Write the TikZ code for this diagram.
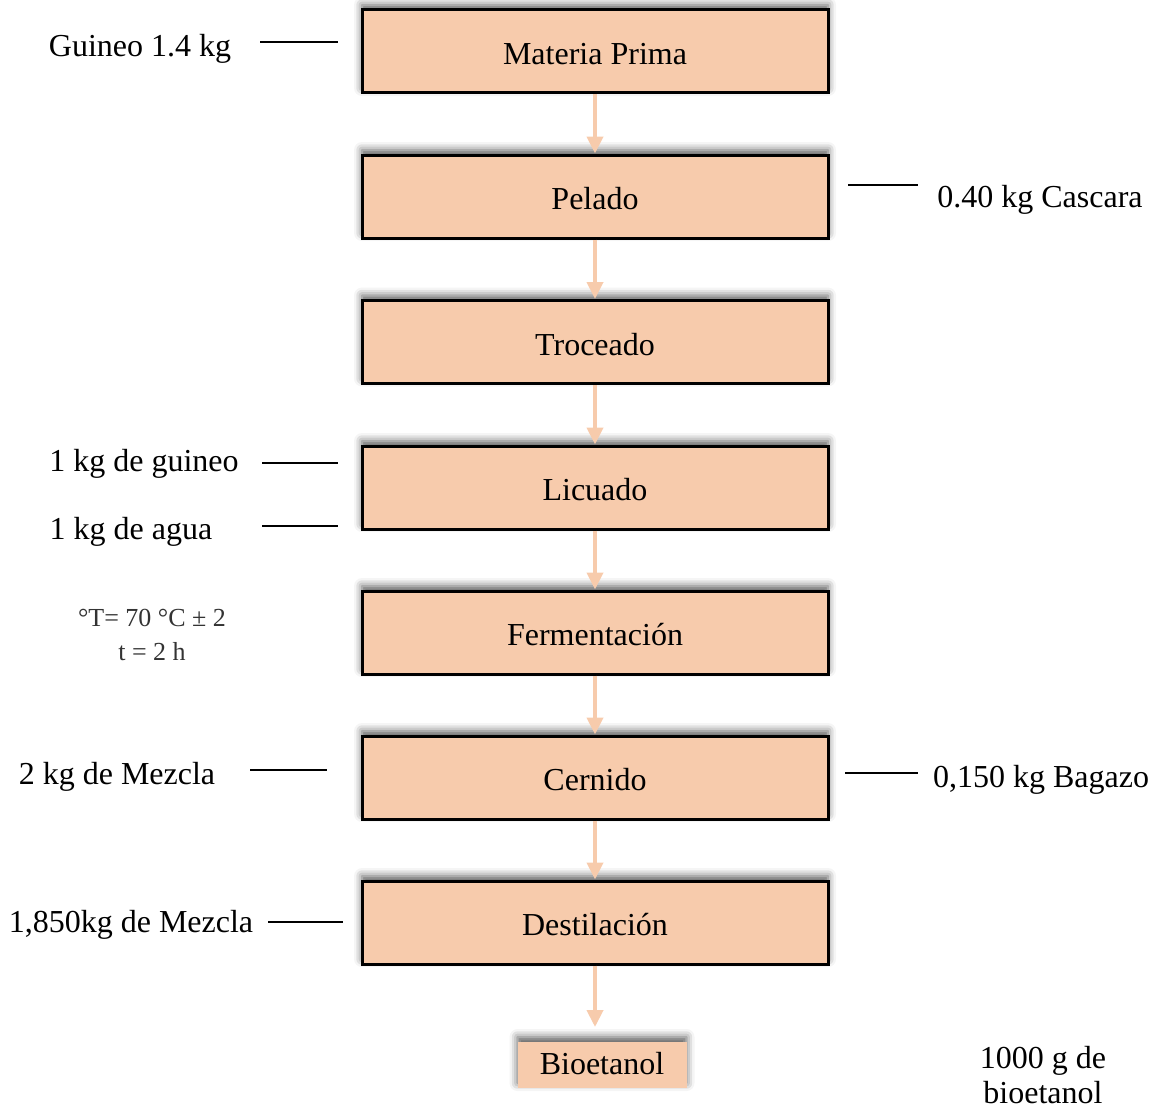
\documentclass[tikz,border=0pt]{standalone}
\usepackage{fontspec}
\setmainfont{Liberation Serif}
\usetikzlibrary{shadows.blur,arrows.meta}
\definecolor{peach}{HTML}{F7CBAC}
\begin{document}
\begin{tikzpicture}[x=0.5pt,y=-0.5pt,
  stepbox/.style={draw=black, line width=1.5pt, fill=peach, minimum width=233pt,
    minimum height=41.5pt, inner sep=0pt, font=\fontsize{16}{19}\selectfont,
    text height=16.5pt, text depth=3.5pt,
    blur shadow={shadow xshift=0pt, shadow yshift=2.5pt, shadow blur radius=4pt, shadow opacity=65}},
  endbox/.style={fill=peach, minimum width=84.5pt, minimum height=23pt, inner sep=0pt,
    font=\fontsize{16}{19}\selectfont, text height=12.5pt, text depth=3.5pt,
    blur shadow={shadow xshift=0pt, shadow yshift=2.5pt, shadow blur radius=4pt, shadow opacity=65}},
  flow/.style={draw=peach, line width=2pt, -{Triangle[width=8pt,length=8.5pt]}},
  lbl/.style={font=\fontsize{16}{19}\selectfont, inner sep=0pt, text height=0.68em, text depth=0.22em},
  small/.style={font=\fontsize{13}{15}\selectfont, text=black!80, inner sep=0pt, text height=0.68em, text depth=0.22em},
  side/.style={draw=black, line width=0.75pt}]
\useasboundingbox (0,0) rectangle (1160,1113);

% process boxes
\node[stepbox] (mp)  at (595,51.5)  {Materia Prima};
\node[stepbox] (pel) at (595,196.5) {Pelado};
\node[stepbox] (tro) at (595,342)   {Troceado};
\node[stepbox] (lic) at (595,487.5) {Licuado};
\node[stepbox] (fer) at (595,632.5) {Fermentación};
\node[stepbox] (cer) at (595,777.5) {Cernido};
\node[stepbox] (des) at (595,922.5) {Destilación};
\node[endbox]  (bio) at (602,1065)  {Bioetanol};

% flow arrows
\draw[flow] (mp.south)  -- (pel.north);
\draw[flow] (pel.south) -- (tro.north);
\draw[flow] (tro.south) -- (lic.north);
\draw[flow] (lic.south) -- (fer.north);
\draw[flow] (fer.south) -- (cer.north);
\draw[flow] (cer.south) -- (des.north);
\coordinate (bioin) at (595,1027);
\draw[flow] (des.south) -- (bioin);

% side labels
\node[lbl] (l1) at (140,52) {Guineo 1.4 kg};
\coordinate (l1a) at (260,42); \coordinate (l1b) at (338,42);
\draw[side] (l1a) -- (l1b);

\node[lbl] (r1) at (1040,203) {0.40 kg Cascara};
\coordinate (r1a) at (848,185); \coordinate (r1b) at (918,185);
\draw[side] (r1a) -- (r1b);

\node[lbl] (l2) at (144,467) {1 kg de guineo};
\coordinate (l2a) at (262,463); \coordinate (l2b) at (338,463);
\draw[side] (l2a) -- (l2b);

\node[lbl] (l3) at (131,535) {1 kg de agua};
\coordinate (l3a) at (262,526); \coordinate (l3b) at (338,526);
\draw[side] (l3a) -- (l3b);

\node[small] (t1) at (152,622) {°T= 70 °C ± 2};
\node[small] (t2) at (152,656) {t = 2 h};

\node[lbl] (l4) at (117,780) {2 kg de Mezcla};
\coordinate (l4a) at (250,770); \coordinate (l4b) at (327,770);
\draw[side] (l4a) -- (l4b);

\node[lbl] (r2) at (1041,783) {0,150 kg Bagazo};
\coordinate (r2a) at (845,773); \coordinate (r2b) at (918,773);
\draw[side] (r2a) -- (r2b);

\node[lbl] (l5) at (131,928) {1,850kg de Mezcla};
\coordinate (l5a) at (268,922); \coordinate (l5b) at (343,922);
\draw[side] (l5a) -- (l5b);

\node[lbl] (r3) at (1043,1064) {1000 g de};
\node[lbl] (r4) at (1043,1099) {bioetanol};
\end{tikzpicture}
\end{document}
